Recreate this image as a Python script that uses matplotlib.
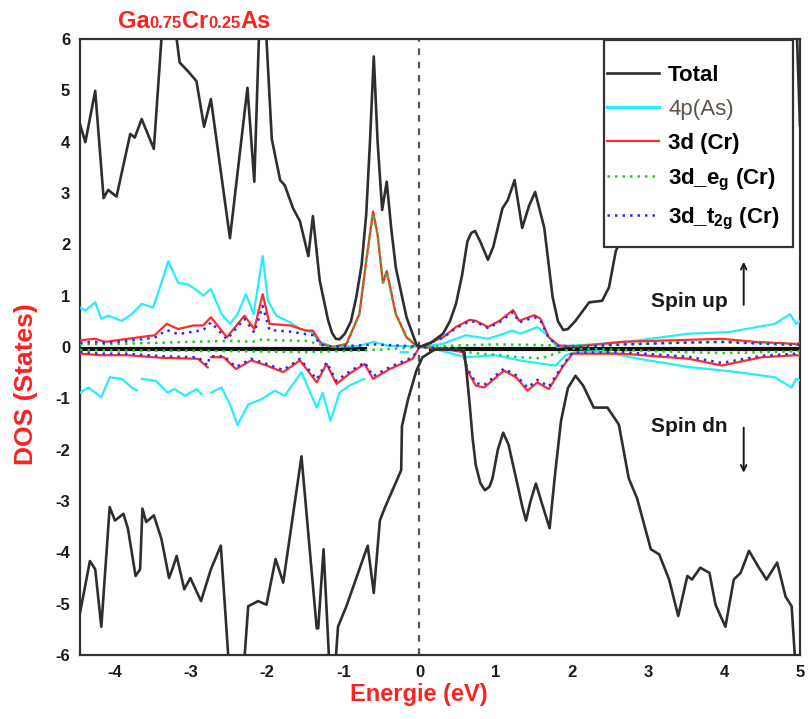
import numpy as np
import matplotlib
matplotlib.use("Agg")
import matplotlib.pyplot as plt
from matplotlib.lines import Line2D
from matplotlib.patches import Rectangle

nan = np.nan

# ---------------- data ----------------
x_tot_up = [-4.46, -4.39, -4.26, -4.15, -4.09, -3.98, -3.80, -3.74, -3.65, -3.49, -3.39, -3.33, -3.19, -3.15,
            -3.04, -2.93, -2.83, -2.74, -2.49, -2.26, -2.17, -2.11, -2.08, -2.01, -1.94, -1.83, -1.77, -1.66,
            -1.57, -1.46, -1.40, -1.31, -1.20, -1.15, -1.10, -1.05, -0.98, -0.90, -0.83, -0.76, -0.70, -0.65,
            -0.60, -0.55, -0.49, -0.43, -0.37, -0.31, -0.17, -0.04, 0.0, 0.15, 0.31, 0.40, 0.48, 0.56, 0.63,
            0.68, 0.73, 0.80, 0.90, 0.97, 1.09, 1.16, 1.25, 1.35, 1.44, 1.52, 1.64, 1.75, 1.82, 1.89, 1.95,
            2.05, 2.23, 2.40, 2.49, 2.58, 2.62, 2.9, 3.3, 3.8, 4.3, 4.8, 4.95, 5.0]
y_tot_up = [4.34, 3.99, 4.99, 2.90, 3.06, 2.93, 4.15, 4.08, 4.44, 3.86, 6.0, 7.0, 6.0, 5.54,
            5.37, 5.18, 4.29, 4.83, 2.12, 5.05, 3.22, 6.0, 7.5, 6.0, 4.05, 3.25, 3.15, 2.70,
            2.45, 1.77, 2.55, 1.29, 0.52, 0.28, 0.16, 0.15, 0.26, 0.50, 0.97, 1.60, 2.57, 4.00,
            5.66, 4.00, 2.67, 3.22, 2.30, 1.54, 0.58, 0.05, 0.0, 0.08, 0.26, 0.50, 0.84, 1.40, 2.06,
            2.22, 2.26, 2.05, 1.70, 1.95, 2.70, 2.86, 3.25, 2.32, 2.75, 3.02, 2.32, 0.97, 0.50, 0.33, 0.35,
            0.51, 0.87, 0.90, 1.16, 1.87, 2.0, 3.0, 4.2, 5.3, 6.3, 7.0, 6.5, 4.3]

x_tot_dn = [-4.46, -4.33, -4.26, -4.18, -4.07, -4.00, -3.89, -3.83, -3.73, -3.67, -3.64, -3.59, -3.49, -3.39,
            -3.29, -3.24, -3.19, -3.09, -3.01, -2.87, -2.74, -2.61, -2.49, -2.32, -2.25, -2.12, -2.01, -1.89,
            -1.79, -1.55, -1.35, -1.33, -1.26, -1.18, -1.15, -1.11, -1.07, -0.96, -0.68, -0.60, -0.52, -0.46,
            -0.24, -0.23, -0.15, -0.04, 0.04, 0.2, 0.55, 0.59, 0.62, 0.66, 0.70, 0.74, 0.80, 0.86, 0.92, 0.96,
            1.03, 1.10, 1.17, 1.27, 1.35, 1.40, 1.46, 1.53, 1.62, 1.71, 1.78, 1.86, 1.95, 2.05, 2.15, 2.29,
            2.47, 2.62, 2.75, 2.86, 3.04, 3.15, 3.28, 3.40, 3.52, 3.58, 3.69, 3.81,
            3.89, 4.02, 4.13, 4.22, 4.33, 4.46, 4.56, 4.70, 4.81, 4.89, 4.94, 5.0]
y_tot_dn = [-5.18, -4.17, -4.33, -5.45, -3.12, -3.38, -3.25, -3.54, -4.46, -4.33, -3.15, -3.41, -3.28, -3.74,
            -4.50, -4.30, -4.07, -4.72, -4.50, -4.95, -4.33, -3.87, -6.5, -6.5, -5.05, -4.95, -5.02, -4.13,
            -4.59, -2.13, -5.48, -5.48, -3.94, -6.3, -6.5, -6.3, -5.45, -5.05, -3.87, -4.79, -3.38, -3.15,
            -2.40, -1.54, -1.02, -0.46, -0.2, -0.05, -0.05, -0.10, -0.50, -1.12, -1.80, -2.30, -2.65, -2.79, -2.72, -2.56,
            -2.00, -1.67, -1.90, -2.56, -3.10, -3.38, -3.00, -2.66, -3.10, -3.53, -2.50, -1.44, -0.80, -0.56, -0.75, -1.18,
            -1.18, -1.51, -2.56, -2.95, -3.94, -4.04, -4.53, -5.24, -4.46, -4.53, -4.30, -4.40,
            -5.02, -5.45, -4.53, -4.40, -3.97, -4.30, -4.53, -4.20, -4.86, -5.05, -6.2, -6.5]

x_as_up = [-4.46, -4.39, -4.26, -4.18, -4.09, -3.91, -3.78, -3.65, -3.50, -3.41, -3.30, -3.17, -3.04, -2.91,
           -2.84, -2.74, -2.60, -2.49, -2.39, -2.28, -2.18, -2.06, -1.99, -1.88, -1.70, -1.57, -1.42, -1.31,
           -1.14, -0.8, -0.6, -0.4, -0.2, 0.0, 0.30, 0.61, 0.90, 1.05, 1.22, 1.33, 1.55, 1.68, 1.81, 2.0, 2.4,
           2.88, 3.54, 4.06, 4.67, 4.87, 4.95, 5.0]
y_as_up = [0.77, 0.71, 0.87, 0.55, 0.61, 0.51, 0.64, 0.84, 0.77, 1.16, 1.67, 1.25, 1.22, 1.09,
           1.00, 1.13, 0.64, 0.45, 0.64, 1.03, 0.64, 1.77, 0.90, 0.61, 0.48, 0.35, 0.29, 0.10,
           0.0, 0.02, 0.1, 0.02, 0.02, 0.0, 0.06, 0.23, 0.16, 0.23, 0.32, 0.26, 0.39, 0.23, 0.0, 0.03, 0.06,
           0.13, 0.26, 0.29, 0.45, 0.64, 0.45, 0.5]

x_as_dn = [-4.46, -4.35, -4.18, -4.07, -3.91, -3.78, -3.71, -3.68, -3.65, -3.46, -3.31, -3.22, -3.08, -2.93,
           -2.86, -2.80, -2.74, -2.60, -2.49, -2.39, -2.25, -2.08, -1.90, -1.77, -1.55, -1.35, -1.27, -1.17,
           -1.05, -0.92, -0.72, -0.5, -0.25, -0.15, -0.1, 0.0, 0.1, 0.61, 1.0, 1.31, 1.62, 1.79, 1.92, 2.05, 2.4,
           2.88, 3.54, 4.19, 4.67, 4.89, 4.95, 5.0]
y_as_dn = [-0.89, -0.79, -0.98, -0.59, -0.62, -0.79, -0.85, nan, -0.62, -0.66, -0.89, -0.82, -0.95, -0.82,
           -0.92, nan, -0.89, -0.79, -1.12, -1.52, -1.12, -1.02, -0.85, -0.95, -0.49, -1.18, -0.89, -1.44,
           -0.89, -0.75, -0.62, nan, -0.1, -0.1, nan, 0.0, 0.0, -0.20, -0.16, -0.26, -0.33, -0.36, -0.16, -0.1, -0.08,
           -0.23, -0.39, -0.49, -0.59, -0.79, -0.62, -0.65]

x_cr_up = [-4.46, -4.26, -4.13, -3.83, -3.48, -3.32, -3.17, -2.97, -2.84, -2.74, -2.53, -2.30, -2.17, -2.06,
           -1.97, -1.70, -1.49, -1.40, -1.29, -1.14, -0.96, -0.79, -0.70, -0.61, -0.55, -0.48, -0.43, -0.31,
           -0.17, -0.04, 0.0, 0.31, 0.48, 0.66, 0.74, 0.90, 1.05, 1.23, 1.31, 1.51, 1.59, 1.70, 1.83, 2.05,
           2.66, 3.32, 3.97, 4.41, 4.95, 5.0]
y_cr_up = [0.13, 0.16, 0.10, 0.16, 0.23, 0.45, 0.35, 0.42, 0.42, 0.58, 0.19, 0.61, 0.35, 1.03,
           0.45, 0.42, 0.32, 0.32, 0.06, 0.0, 0.06, 0.64, 1.67, 2.64, 2.19, 1.25, 1.48, 0.64,
           0.19, 0.02, 0.0, 0.19, 0.39, 0.53, 0.51, 0.39, 0.51, 0.72, 0.51, 0.62, 0.55, 0.19, 0.03, 0.01,
           0.1, 0.13, 0.16, 0.1, 0.06, 0.08]
y_t2g_up = [0.08, 0.10, 0.08, 0.12, 0.18, 0.33, 0.25, 0.30, 0.33, 0.48, 0.15, 0.55, 0.28, 0.80,
            0.33, 0.30, 0.25, 0.23, 0.04, 0.0, 0.02, 0.03, 0.04, 0.05, 0.05, 0.04, 0.04, 0.03,
            0.02, 0.01, 0.0, 0.18, 0.37, 0.50, 0.49, 0.37, 0.48, 0.68, 0.48, 0.58, 0.52, 0.17, 0.02, 0.0,
            0.05, 0.08, 0.10, 0.07, 0.04, 0.05]

x_eg_up = [-4.46, -4.0, -3.5, -3.0, -2.5, -2.2, -2.06, -1.9, -1.5, -1.3, -1.1, -0.95, -0.79, -0.70, -0.61,
           -0.55, -0.48, -0.43, -0.31, -0.17, 0.0, 0.5, 1.0, 1.5, 2.0, 2.7, 3.3, 4.0, 4.5, 5.0]
y_eg_up = [0.05, 0.06, 0.08, 0.10, 0.12, 0.10, 0.15, 0.13, 0.12, 0.05, 0.0, 0.06, 0.64, 1.67, 2.60,
           2.19, 1.25, 1.46, 0.64, 0.19, 0.0, 0.03, 0.05, 0.04, 0.02, 0.05, 0.08, 0.10, 0.08, 0.05]

x_cr_dn = [-4.46, -4.18, -3.83, -3.39, -2.91, -2.78, -2.76, -2.74, -2.57, -2.41, -2.21, -2.01, -1.79, -1.57,
           -1.35, -1.22, -1.09, -0.92, -0.72, -0.61, -0.39, -0.09, 0.0, 0.3, 0.57, 0.63, 0.74, 0.85, 1.11,
           1.27, 1.42, 1.55, 1.70, 1.88, 2.01, 2.67, 3.54, 3.97, 4.50, 4.95, 5.0]
y_cr_dn = [-0.13, -0.16, -0.16, -0.21, -0.23, -0.40, nan, -0.20, -0.20, -0.43, -0.26, -0.36, -0.49, -0.26,
           -0.69, -0.33, -0.72, -0.52, -0.33, -0.62, -0.43, -0.23, 0.0, -0.03, -0.10, -0.46, -0.75, -0.79, -0.46,
           -0.59, -0.85, -0.69, -0.82, -0.39, -0.13, -0.13, -0.23, -0.36, -0.20, -0.16, -0.17]
y_t2g_dn = [-0.10, -0.13, -0.13, -0.18, -0.20, -0.36, -0.19, -0.18, -0.18, -0.39, -0.23, -0.33, -0.45, -0.23,
            -0.63, -0.30, -0.66, -0.48, -0.30, -0.57, -0.39, -0.20, 0.0, -0.03, -0.08, -0.42, -0.70, -0.74, -0.42,
            -0.55, -0.79, -0.64, -0.77, -0.36, -0.11, -0.10, -0.19, -0.31, -0.17, -0.13, -0.14]

x_eg_dn = [-4.46, -3.5, -2.5, -1.5, -1.0, -0.5, 0.0, 0.5, 0.7, 1.0, 1.3, 1.6, 1.8, 2.0, 2.7, 3.5, 4.0, 4.5, 5.0]
y_eg_dn = [-0.06, -0.07, -0.08, -0.10, -0.08, -0.05, 0.0, -0.03, -0.12, -0.15, -0.20, -0.22, -0.12, -0.03,
           -0.06, -0.10, -0.12, -0.10, -0.08]

x_base = [-4.46, -0.72, nan, 0.15, 5.0]
y_base = [-0.04, -0.04, nan, -0.04, -0.04]

x_ticks = [-4, -3, -2, -1, 0, 1, 2, 3, 4, 5]
y_ticks = [-6, -5, -4, -3, -2, -1, 0, 1, 2, 3, 4, 5, 6]

labels = ["Total", "4p(As)", "3d (Cr)", r"3d_e$_\mathbf{g}$ (Cr)", r"3d_t$_\mathbf{2g}$ (Cr)"]

# ---------------- style ----------------
plt.rcParams['font.family'] = ['Liberation Sans', 'DejaVu Sans']
plt.rcParams['font.weight'] = 'bold'
plt.rcParams['axes.unicode_minus'] = False
plt.rcParams['mathtext.fontset'] = 'custom'
plt.rcParams['mathtext.rm'] = 'Liberation Sans:bold'
plt.rcParams['mathtext.bf'] = 'Liberation Sans:bold'
plt.rcParams['mathtext.it'] = 'Liberation Sans:bold'

C_TOT = '#2e2e2e'
C_AS = '#22eeff'
C_CR = '#ff2a2a'
C_EG = '#22cc22'
C_T2G = '#2a2aff'

fig = plt.figure(figsize=(8.08, 7.19), dpi=100)
ax = fig.add_axes([80 / 808, 1 - 655 / 719, 720 / 808, 616 / 719])

lw = 1.6
kw = dict(solid_joinstyle='round', solid_capstyle='round')
ax.plot(x_base, y_base, color='#111111', lw=3.0, zorder=2)
ax.plot(x_as_up, y_as_up, color=C_AS, lw=lw, zorder=3, **kw)
ax.plot(x_as_dn, y_as_dn, color=C_AS, lw=lw, zorder=3, **kw)
ax.plot(x_cr_up, y_cr_up, color=C_CR, lw=lw, zorder=4, **kw)
ax.plot(x_cr_dn, y_cr_dn, color=C_CR, lw=lw, zorder=4, **kw)
ax.plot(x_eg_up, y_eg_up, color=C_EG, lw=1.8, ls=(0, (1, 2)), zorder=5)
ax.plot(x_eg_dn, y_eg_dn, color=C_EG, lw=1.8, ls=(0, (1, 2)), zorder=5)
ax.plot(x_cr_up, y_t2g_up, color=C_T2G, lw=1.8, ls=(0, (1, 2)), zorder=5)
ax.plot(x_cr_dn, y_t2g_dn, color=C_T2G, lw=1.8, ls=(0, (1, 2)), zorder=5)
ax.plot(x_tot_up, y_tot_up, color=C_TOT, lw=1.9, zorder=6, **kw)
ax.plot(x_tot_dn, y_tot_dn, color=C_TOT, lw=1.9, zorder=6, **kw)
ax.axvline(0, color='#555555', lw=1.6, ls=(0, (3, 3)), zorder=1)

# legend box (drawn as a frame in axes fraction) and legend entries
box = Rectangle((0.728, 0.662), 0.262, 0.336, transform=ax.transAxes, facecolor='white',
                edgecolor='#333333', lw=1.6, zorder=9)
ax.add_patch(box)
handles = [Line2D([], [], color=C_TOT, lw=1.9),
           Line2D([], [], color=C_AS, lw=2.4),
           Line2D([], [], color=C_CR, lw=lw),
           Line2D([], [], color=C_EG, lw=1.8, ls=(0, (1, 2))),
           Line2D([], [], color=C_T2G, lw=1.8, ls=(0, (1, 2)))]
leg = ax.legend(handles, labels, loc='upper left', bbox_to_anchor=(0.732, 0.958),
                fontsize=16, frameon=False, borderpad=0, labelspacing=0.58,
                handlelength=2.35, handletextpad=0.4, borderaxespad=0)
leg.set_zorder(10)
leg.get_texts()[1].set_color('#5c5248')
leg.get_texts()[1].set_fontweight('normal')

ax.set_xlim(-4.46, 5.0)
ax.set_ylim(-6, 6)
ax.set_xticks(x_ticks)
ax.set_yticks(y_ticks)
ax.tick_params(length=0, labelsize=12, colors='#1a1a1a', pad=7)
for lab in ax.get_xticklabels() + ax.get_yticklabels():
    lab.set_fontweight('bold')
for sp in ax.spines.values():
    sp.set_color('#333333')
    sp.set_linewidth(1.6)

ax.set_xlabel('Energie (eV)', color='#ff2020', fontsize=17, fontweight='bold')
ax.xaxis.set_label_coords(0.471, -0.045)
ax.xaxis.label.set_va('top')
ax.set_ylabel('DOS (States)', color='#ff2020', fontsize=19, fontweight='bold')
ax.yaxis.set_label_coords(-0.058, 0.44)

ax.text(3.54, 0.89, 'Spin up', fontsize=15, fontweight='bold', color='#1a1a1a', ha='center', va='center')
ax.annotate('', xy=(4.26, 1.66), xytext=(4.26, 0.82),
            arrowprops=dict(arrowstyle='->', lw=1.4, color='#1a1a1a', shrinkA=0, shrinkB=0))
ax.text(3.54, -1.55, 'Spin dn', fontsize=15, fontweight='bold', color='#1a1a1a', ha='center', va='center')
ax.annotate('', xy=(4.26, -2.45), xytext=(4.26, -1.57),
            arrowprops=dict(arrowstyle='->', lw=1.4, color='#1a1a1a', shrinkA=0, shrinkB=0))

# title pieces
renderer = fig.canvas.get_renderer()
pieces = [('Ga', 17), ('0.75', 12), ('Cr', 17), ('0.25', 12), ('As', 17)]
xpos = 118 / 808
ybase = 1 - 28 / 719
for s, fs in pieces:
    t = fig.text(xpos, ybase, s, fontsize=fs, fontweight='bold', color='#ff2020', va='baseline', ha='left')
    w = t.get_window_extent(renderer).width
    xpos += w / fig.bbox.width

fig.savefig('out.png', dpi=100)
